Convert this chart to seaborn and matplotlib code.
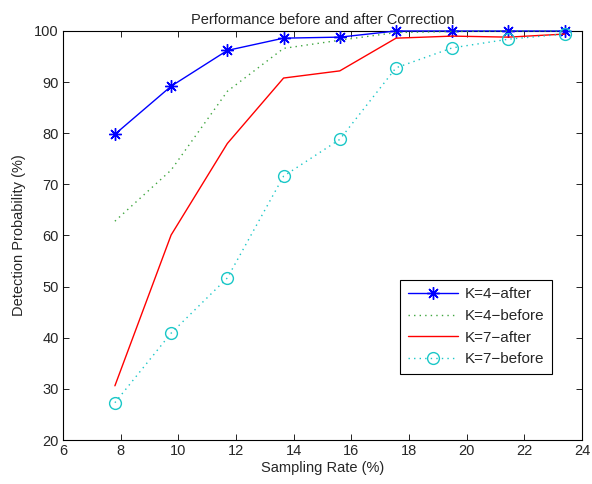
import matplotlib
matplotlib.use("Agg")
import matplotlib.pyplot as plt
import seaborn as sns
import pandas as pd

sampling_rate = [7.8, 9.75, 11.7, 13.65, 15.6, 17.55, 19.5, 21.45, 23.4]
k4_after = [79.8, 89.2, 96.2, 98.6, 98.8, 100.0, 100.0, 100.0, 100.0]
k4_before = [62.8, 72.8, 88.2, 96.6, 98.2, 99.7, 99.9, 100.0, 100.0]
k7_after = [30.6, 60.1, 78.0, 90.8, 92.2, 98.6, 99.0, 98.8, 99.4]
k7_before = [27.3, 40.9, 51.7, 71.6, 78.8, 92.8, 96.7, 98.4, 99.4]

labels = ["K=4\u2212after", "K=4\u2212before", "K=7\u2212after", "K=7\u2212before"]
x_ticks = [6, 8, 10, 12, 14, 16, 18, 20, 22, 24]
y_ticks = [20, 30, 40, 50, 60, 70, 80, 90, 100]

sns.set_style("ticks")
plt.rcParams['font.family'] = ['Liberation Sans', 'DejaVu Sans']
plt.rcParams['xtick.direction'] = 'in'
plt.rcParams['ytick.direction'] = 'in'

fig = plt.figure(figsize=(5.92, 4.84), dpi=100)
ax = fig.add_axes([63/592, 1 - 440/484, (582 - 63)/592, (440 - 31)/484])

blue = (0, 0, 1)
green = (0.25, 0.65, 0.25)
red = (1, 0, 0)
cyan = (0.1, 0.78, 0.78)
styles = [
    dict(color=blue, linestyle='-', marker=(8, 2, 0), markersize=9, markeredgecolor=blue, markeredgewidth=1.0),
    dict(color=green, linestyle=(0, (1, 3)), marker=None),
    dict(color=red, linestyle='-', marker=None),
    dict(color=cyan, linestyle=(0, (1, 3)), marker='o', markersize=8.5, markerfacecolor='none', markeredgecolor=cyan, markeredgewidth=1.0),
]
series = [k4_after, k4_before, k7_after, k7_before]

for vals, lab, st in zip(series, labels, styles):
    df = pd.DataFrame({"x": sampling_rate, "y": vals})
    sns.lineplot(data=df, x="x", y="y", ax=ax, label=lab, linewidth=1.0, clip_on=False, **st)

ax.set_xlim(6, 24)
ax.set_ylim(20, 100)
ax.set_xticks(x_ticks)
ax.set_yticks(y_ticks)
ax.tick_params(axis='both', which='both', top=True, right=True, labelsize=10.5,
               length=4, width=0.6, color='black', pad=3)
for sp in ax.spines.values():
    sp.set_visible(True)
    sp.set_linewidth(0.8)
    sp.set_color('black')
    sp.set_zorder(1)

ax.set_xlabel("Sampling Rate (%)", fontsize=10.5, labelpad=2)
ax.set_ylabel("Detection Probability (%)", fontsize=10.5, labelpad=6)
ax.set_title("Performance before and after Correction", fontsize=10.5, pad=5)

leg = ax.legend(loc='lower right', bbox_to_anchor=((551.7 - 63) / 519, (440 - 374) / 409),
                borderaxespad=0, fontsize=11, frameon=True, fancybox=False,
                edgecolor='black', framealpha=1, handlelength=3.3, borderpad=0.5,
                labelspacing=0.5, handletextpad=0.4)
leg.get_frame().set_linewidth(0.8)

fig.savefig("out.png", dpi=100)
